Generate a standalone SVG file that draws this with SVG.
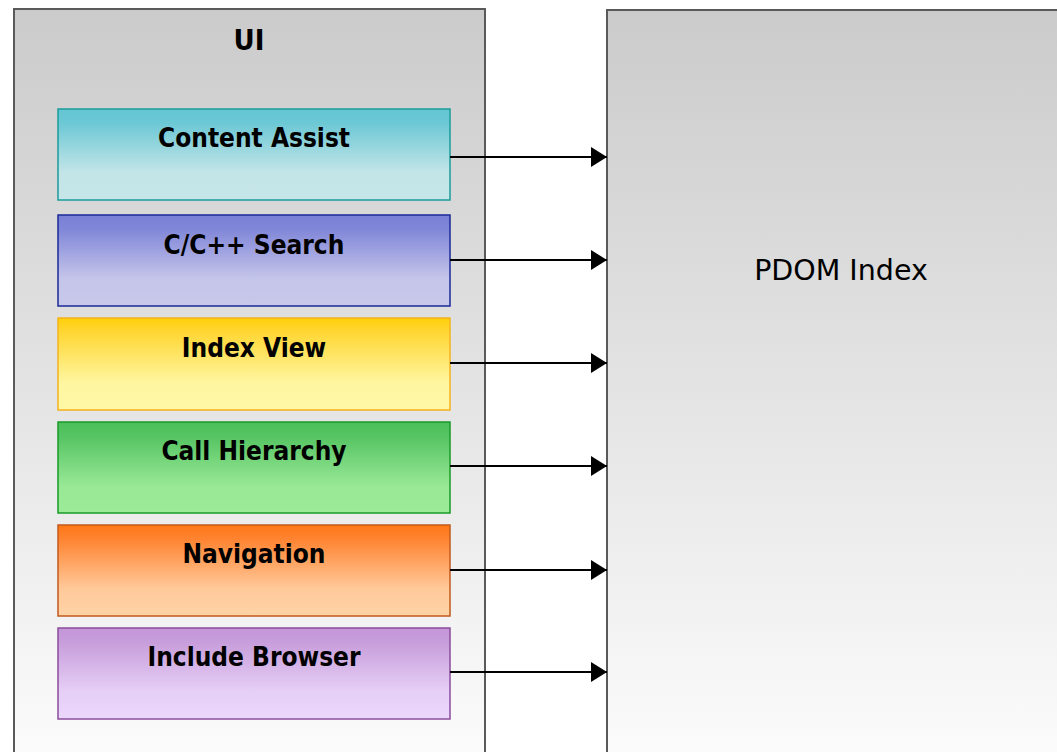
<svg xmlns="http://www.w3.org/2000/svg" width="1057" height="752" viewBox="0 0 1057 752">
<defs>
<linearGradient id="gGray" x1="0" y1="0" x2="0" y2="1">
<stop offset="0" stop-color="#cbcbcb"/><stop offset="1" stop-color="#fdfdfd"/>
</linearGradient>
<linearGradient id="gCyan" x1="0" y1="0" x2="0" y2="1">
<stop offset="0" stop-color="#64c5d3"/><stop offset="0.15" stop-color="#6cc8d5"/><stop offset="0.7" stop-color="#c3e5e8"/><stop offset="1" stop-color="#c6e6e9"/>
</linearGradient>
<linearGradient id="gBlue" x1="0" y1="0" x2="0" y2="1">
<stop offset="0" stop-color="#7a80d6"/><stop offset="0.15" stop-color="#8086d8"/><stop offset="0.7" stop-color="#c5c5ea"/><stop offset="1" stop-color="#c8c8eb"/>
</linearGradient>
<linearGradient id="gYellow" x1="0" y1="0" x2="0" y2="1">
<stop offset="0" stop-color="#ffd00a"/><stop offset="0.15" stop-color="#ffd633"/><stop offset="0.7" stop-color="#fff6a0"/><stop offset="1" stop-color="#fff8a6"/>
</linearGradient>
<linearGradient id="gGreen" x1="0" y1="0" x2="0" y2="1">
<stop offset="0" stop-color="#4cbf5a"/><stop offset="0.15" stop-color="#55c462"/><stop offset="0.7" stop-color="#98e896"/><stop offset="1" stop-color="#9ceb98"/>
</linearGradient>
<linearGradient id="gOrange" x1="0" y1="0" x2="0" y2="1">
<stop offset="0" stop-color="#ff7715"/><stop offset="0.15" stop-color="#ff8330"/><stop offset="0.7" stop-color="#ffc99a"/><stop offset="1" stop-color="#ffd3a6"/>
</linearGradient>
<linearGradient id="gPurple" x1="0" y1="0" x2="0" y2="1">
<stop offset="0" stop-color="#c496d8"/><stop offset="0.15" stop-color="#c79ddb"/><stop offset="0.7" stop-color="#e6cff6"/><stop offset="1" stop-color="#ebd6fc"/>
</linearGradient>
<marker id="arrow" markerWidth="16" markerHeight="20" refX="16" refY="10" orient="auto" markerUnits="userSpaceOnUse">
<path d="M0,0 L16,10 L0,20 Z" fill="#000"/>
</marker>
</defs>
<style>
.container{stroke:#5a5a5a;stroke-width:2;fill:url(#gGray)}
.box{stroke-width:1.5}
.lbl{font-family:"DejaVu Sans",Verdana,sans-serif;font-stretch:condensed;font-weight:bold;font-size:26px;fill:#000;text-anchor:middle}
.conn{stroke:#000;stroke-width:2;fill:none}
</style>
<g id="ui">
<rect class="container" x="14" y="9" width="471" height="770"/>
<text class="lbl" x="249" y="50" style="font-size:29px">UI</text>
</g>
<g id="pdom">
<rect class="container" x="607" y="10" width="470" height="770"/>
<text x="841" y="280" style="font-family:'DejaVu Sans',Verdana,sans-serif;font-size:28.5px;fill:#000;text-anchor:middle">PDOM Index</text>
</g>
<g id="content-assist">
<rect class="box" x="58" y="109" width="392" height="91" fill="url(#gCyan)" stroke="#1a9c9a"/>
<text class="lbl" x="254" y="147">Content Assist</text>
</g>
<g id="search">
<rect class="box" x="58" y="215" width="392" height="91" fill="url(#gBlue)" stroke="#1c2a98"/>
<text class="lbl" x="254" y="254">C/C++ Search</text>
</g>
<g id="index-view">
<rect class="box" x="58" y="318" width="392" height="92" fill="url(#gYellow)" stroke="#f4b21e"/>
<text class="lbl" x="254" y="357">Index View</text>
</g>
<g id="call-hierarchy">
<rect class="box" x="58" y="422" width="392" height="91" fill="url(#gGreen)" stroke="#1a9a28"/>
<text class="lbl" x="254" y="460">Call Hierarchy</text>
</g>
<g id="navigation">
<rect class="box" x="58" y="525" width="392" height="91" fill="url(#gOrange)" stroke="#c25a1c"/>
<text class="lbl" x="254" y="563">Navigation</text>
</g>
<g id="include-browser">
<rect class="box" x="58" y="628" width="392" height="91" fill="url(#gPurple)" stroke="#8a4c9c"/>
<text class="lbl" x="254" y="666">Include Browser</text>
</g>
<g id="connectors">
<line class="conn" x1="450" y1="157" x2="607" y2="157" marker-end="url(#arrow)"/>
<line class="conn" x1="450" y1="260" x2="607" y2="260" marker-end="url(#arrow)"/>
<line class="conn" x1="450" y1="363" x2="607" y2="363" marker-end="url(#arrow)"/>
<line class="conn" x1="450" y1="466" x2="607" y2="466" marker-end="url(#arrow)"/>
<line class="conn" x1="450" y1="570" x2="607" y2="570" marker-end="url(#arrow)"/>
<line class="conn" x1="450" y1="672" x2="607" y2="672" marker-end="url(#arrow)"/>
</g>
</svg>
